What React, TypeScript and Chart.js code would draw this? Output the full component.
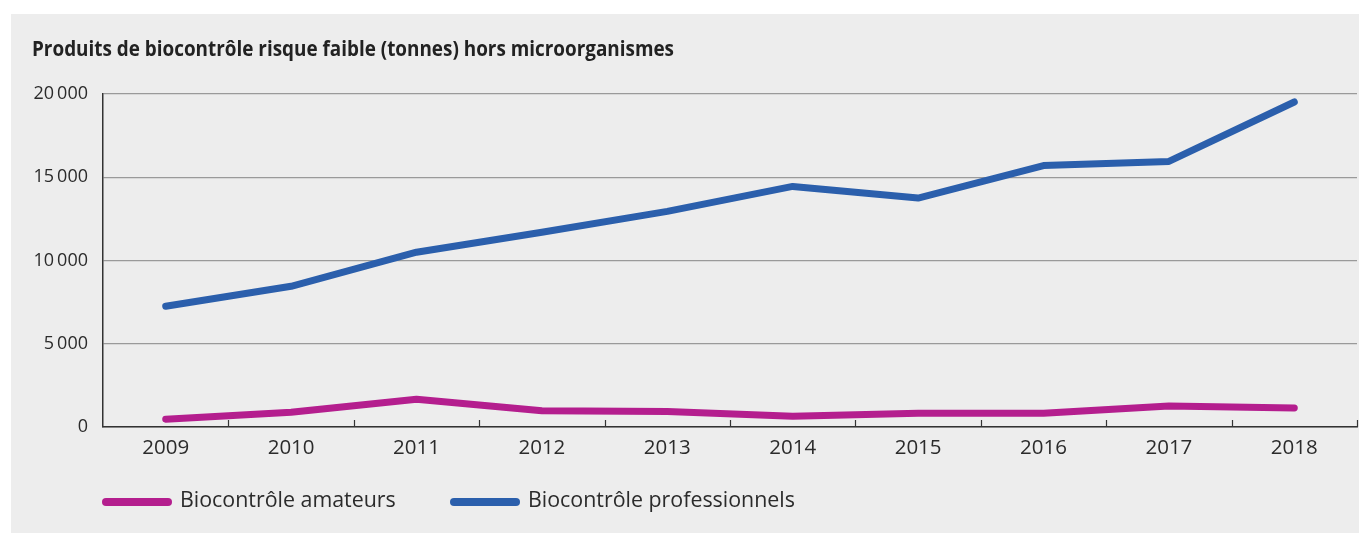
import React, { useEffect, useRef } from "react";
import { Chart, registerables } from "chart.js";

Chart.register(...registerables);

const TITLE = "Produits de biocontrôle risque faible (tonnes) hors microorganismes";
const YEARS = ["2009", "2010", "2011", "2012", "2013", "2014", "2015", "2016", "2017", "2018"];
const AMATEURS = [470, 890, 1670, 980, 930, 650, 830, 830, 1260, 1140];
const PROFESSIONNELS = [7250, 8450, 10500, 11700, 12950, 14450, 13750, 15700, 15950, 19520];
const SERIES_LABELS = ["Biocontrôle amateurs", "Biocontrôle professionnels"];
const SERIES_COLORS = ["#b41e8e", "#2b5fac"];
const Y_TICKS = [0, 5000, 10000, 15000, 20000];

const THIN = "\u2009";
const fmt = (v: number) => {
  const s = String(Math.round(v));
  return s.replace(/\B(?=(\d{3})+(?!\d))/g, THIN);
};

const FONT = '"Open Sans", "DejaVu Sans", sans-serif';

const decorPlugin = {
  id: "decor",
  beforeDraw(chart: any) {
    const ctx = chart.ctx;
    ctx.save();
    ctx.fillStyle = "#ffffff";
    ctx.fillRect(0, 0, chart.width, chart.height);
    ctx.fillStyle = "#ededed";
    ctx.fillRect(11, 14, chart.width - 12, chart.height - 14);
    // title
    ctx.fillStyle = "#222222";
    ctx.font = `bold 22px ${FONT}`;
    ctx.textBaseline = "alphabetic";
    ctx.textAlign = "left";
    const w = ctx.measureText(TITLE).width;
    const sx = 642 / w;
    ctx.translate(32, 56);
    ctx.scale(sx, 1);
    ctx.fillText(TITLE, 0, 0);
    ctx.restore();
  },
  afterDraw(chart: any) {
    const ctx = chart.ctx;
    const xs = chart.scales.x;
    const area = chart.chartArea;
    ctx.save();
    // x tick marks (inward, between categories)
    ctx.strokeStyle = "#333333";
    ctx.lineWidth = 1.2;
    const n = chart.data.labels.length;
    for (let i = 1; i <= n; i++) {
      let px: number;
      if (i < n) px = (xs.getPixelForValue(i - 1) + xs.getPixelForValue(i)) / 2;
      else px = area.right;
      px = Math.round(px) + 0.5;
      ctx.beginPath();
      ctx.moveTo(px, area.bottom);
      ctx.lineTo(px, area.bottom - 7);
      ctx.stroke();
    }
    // legend
    const legendX = [102, 450];
    const ly = 502;
    chart.data.datasets.forEach((ds: any, i: number) => {
      const x0 = legendX[i];
      ctx.strokeStyle = ds.borderColor;
      ctx.lineWidth = 8;
      ctx.lineCap = "round";
      ctx.beginPath();
      ctx.moveTo(x0 + 4, ly);
      ctx.lineTo(x0 + 66, ly);
      ctx.stroke();
      ctx.fillStyle = "#2b2b2b";
      ctx.font = `21.4px ${FONT}`;
      ctx.textBaseline = "middle";
      ctx.textAlign = "left";
      ctx.fillText(ds.label, x0 + 78, ly - 1);
    });
    ctx.restore();
  },
};

export default function App() {
  const ref = useRef<HTMLCanvasElement>(null);
  useEffect(() => {
    if (!ref.current) return;
    const chart = new Chart(ref.current, {
      type: "line",
      data: {
        labels: YEARS,
        datasets: [
          {
            label: SERIES_LABELS[0],
            data: AMATEURS,
            borderColor: SERIES_COLORS[0],
            backgroundColor: SERIES_COLORS[0],
            borderWidth: 7,
            pointRadius: 0,
            borderCapStyle: "round",
            borderJoinStyle: "round",
            tension: 0,
          },
          {
            label: SERIES_LABELS[1],
            data: PROFESSIONNELS,
            borderColor: SERIES_COLORS[1],
            backgroundColor: SERIES_COLORS[1],
            borderWidth: 7,
            pointRadius: 0,
            borderCapStyle: "round",
            borderJoinStyle: "round",
            tension: 0,
          },
        ],
      },
      options: {
        responsive: false,
        animation: false,
        layout: { padding: { left: 0, top: 94, right: 3, bottom: 66 } },
        plugins: {
          legend: { display: false },
          title: { display: false },
          tooltip: { enabled: false },
        },
        scales: {
          x: {
            type: "category",
            offset: true,
            grid: { display: false, drawTicks: false },
            border: { display: true, color: "#333333", width: 1.5 },
            ticks: {
              color: "#2b2b2b",
              font: { family: FONT, size: 20.5 },
              padding: 9,
              maxRotation: 0,
              autoSkip: false,
            },
            afterFit: (s: any) => {
              s.height = 40;
              s.paddingLeft = 0;
              s.paddingRight = 0;
            },
          },
          y: {
            min: 0,
            max: 20000,
            afterBuildTicks: (s: any) => {
              s.ticks = Y_TICKS.map((v) => ({ value: v }));
            },
            grid: { color: "#9a9a9a", lineWidth: 1.2, drawTicks: false },
            border: { display: true, color: "#333333", width: 1.5 },
            ticks: {
              color: "#2b2b2b",
              font: { family: FONT, size: 18 },
              padding: 15,
              callback: (v: any) => fmt(Number(v)),
            },
            afterFit: (s: any) => {
              s.width = 103;
              s.paddingTop = 0;
              s.paddingBottom = 0;
            },
          },
        },
      },
      plugins: [decorPlugin],
    });
    return () => chart.destroy();
  }, []);
  return (
    <div style={{ position: "absolute", left: 0, top: 0, width: 1360, height: 533 }}>
      <canvas ref={ref} width={1360} height={533} style={{ display: "block" }} />
    </div>
  );
}
